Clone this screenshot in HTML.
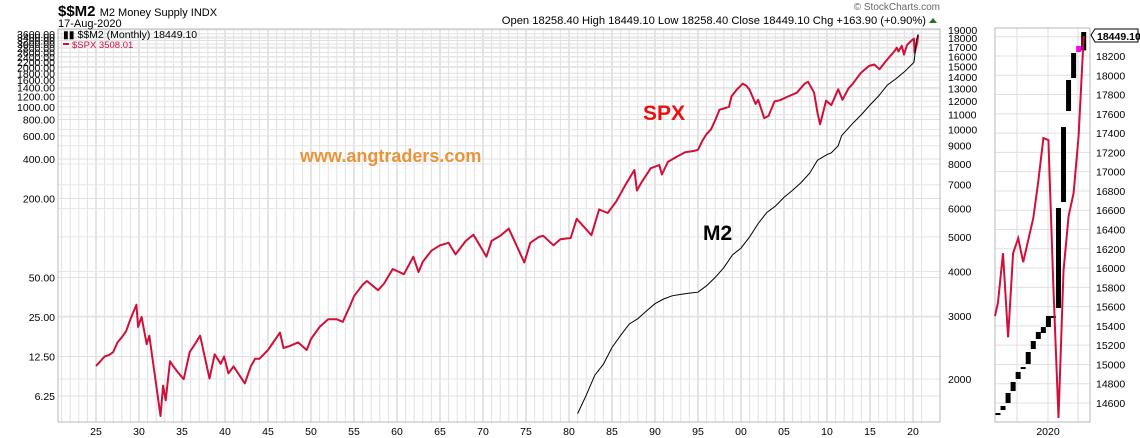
<!DOCTYPE html>
<html><head><meta charset="utf-8"><style>
body{margin:0;background:#fff;width:1140px;height:438px;overflow:hidden}
svg{font-family:"Liberation Sans",Arial,sans-serif;display:block}
</style></head><body>
<svg id="chart" width="1140" height="438" viewBox="0 0 1140 438">
<g id="grid"></g>
<g id="axes"></g>
<g id="series"></g>
<text x="58" y="16" font-size="15" font-weight="bold">$$M2 <tspan font-size="11" font-weight="normal">M2 Money Supply  INDX</tspan></text>
<text x="58" y="27" font-size="11">17-Aug-2020</text>
<text x="940" y="10" font-size="10" fill="#666" text-anchor="end">© StockCharts.com</text>
<text x="926" y="24" font-size="11.2" text-anchor="end">Open 18258.40  High 18449.10  Low 18258.40  Close 18449.10  Chg +163.90 (+0.90%)</text>
<polygon points="929,23 937,23 933,18" fill="#2a6e2a"/>
<text x="63" y="38" font-size="10.5">▮▮ $$M2 (Monthly) 18449.10</text>
<rect x="63" y="43" width="6" height="2" fill="#d0103a"/>
<text x="72" y="48" font-size="9.5" fill="#d0103a">$SPX 3508.01</text>
<text x="643" y="120" font-size="21" font-weight="bold" fill="#e81010">SPX</text>
<text x="300" y="162" font-size="18" font-weight="bold" fill="#e8943a">www.angtraders.com</text>
<text x="703" y="240" font-size="21" font-weight="bold">M2</text>
</svg>
<script>
// main chart data
const spxYears=[1925,1925.5,1926,1926.5,1927,1927.5,1928,1928.5,1929,1929.7,1929.9,1930.3,1930.9,1931.2,1931.9,1932.5,1932.8,1933.1,1933.6,1934,1934.5,1935.2,1935.9,1936.5,1937.1,1937.7,1938.2,1938.8,1939.5,1939.9,1940.4,1941,1942.3,1943,1943.5,1944,1945,1946.4,1946.8,1947.5,1948.5,1949.5,1950,1951,1952,1953,1953.7,1954.5,1955,1956,1956.5,1957.8,1958.5,1959.5,1960,1960.8,1961.9,1962.5,1963,1964,1965,1966,1966.8,1968,1968.9,1970.4,1971,1972,1973,1974.8,1975.5,1976.5,1977,1978.2,1979,1980.2,1980.9,1982.6,1983.5,1984.5,1985.5,1986.5,1987.6,1987.9,1988.5,1989.5,1990.5,1990.8,1991.5,1992.5,1993.5,1994.5,1995,1995.5,1996,1996.5,1997,1997.5,1998,1998.6,1998.9,1999.5,2000.2,2000.6,2001,2001.7,2002,2002.7,2003.2,2003.9,2004.5,2005.5,2006.5,2007.4,2007.8,2008.5,2008.9,2009.2,2009.9,2010.5,2011.3,2011.8,2012.5,2013,2013.9,2014.9,2015.5,2016.1,2016.9,2017.9,2018.1,2018.3,2018.7,2018.95,2019.3,2019.9,2020.1,2020.2,2020.5,2020.6];
const spxValues=[10.6,11.5,12.5,12.8,13.5,16,17.5,19.5,24,31,21,25,15.5,18,8.5,4.4,7.5,5.8,11.5,10.5,9.5,8.4,13.5,15.5,18,12,8.5,13,11,12.5,9.3,10.5,7.8,10.5,12,12,14,19,14.5,15,16,14,17,21,24,24,23,30,36,44,47,40,45,58,56,53,72,55,66,80,88,92,75,95,106,72,95,104,118,65,92,102,104,88,98,100,140,105,165,155,190,250,330,230,270,340,360,305,380,415,450,460,470,550,620,670,790,950,970,1000,1200,1350,1500,1450,1350,1050,1130,820,850,1100,1120,1200,1280,1500,1550,1280,900,735,1115,1030,1360,1130,1380,1500,1800,2050,2100,1930,2250,2680,2820,2640,2910,2500,2950,3230,3300,2580,3100,3508];
const m2Years=[1981,1982,1983,1984,1985,1986,1987,1988,1989,1990,1991,1992,1993,1994,1995,1996,1997,1998,1999,2000,2001,2002,2003,2004,2005,2006,2007,2008,2008.9,2010,2010.5,2011.3,2011.7,2013,2014,2015,2016,2017,2018,2019,2020.1,2020.2,2020.4,2020.6];
const m2Values=[1600,1800,2050,2200,2450,2650,2850,2950,3100,3250,3350,3420,3450,3480,3500,3650,3850,4100,4450,4650,5000,5450,5850,6100,6450,6750,7100,7550,8200,8500,8600,9000,9600,10400,11000,11700,12400,13300,13850,14500,15400,16000,17800,18449];
const leftTicks=[6.25,12.5,25,50,200,400,600,800,1000,1200,1400,1600,1800,2000,2200,2400,2600,2800,3000,3200,3400,3600];
const rightTicks=[2000,3000,4000,5000,6000,7000,8000,9000,10000,11000,12000,13000,14000,15000,16000,17000,18000,19000];
const yearTicks=[25,30,35,40,45,50,55,60,65,70,75,80,85,90,95,"00","05",10,15,20];
// zoom panel data (monthly)
const barOpen=[14475,14527,14600,14724,14849,14953,15005,15160,15264,15326,15388,15492,15586,16685,17629,17972,18241,18258];
const barClose=[14496,14569,14704,14818,14922,14973,15129,15243,15337,15388,15503,15503,16623,17463,17951,18231,18304,18449];
const panelSpx=[15500,15645,16154,15282,16154,16310,16061,16289,16518,16900,17348,17327,15800,14444,15970,16540,16778,17369,18407];
const panelTicks=[14600,14800,15000,15200,15400,15600,15800,16000,16200,16400,16600,16800,17000,17200,17400,17600,17800,18000,18200,18400];

const NS="http://www.w3.org/2000/svg";
const L=58,R=940,T=29,B=422;
const xYear=y=>96+8.6*(y-1925);
const yLeft=v=>396-39.5*Math.log2(v/6.25);
const yRight=v=>379-107.5*Math.log2(v/2000);
const PL=995,PR=1090;
const px=i=>998+5.04*i;
const py=v=>403-(v-14600)*0.09639;
function mk(tag,attrs,parent){const e=document.createElementNS(NS,tag);for(const k in attrs)e.setAttribute(k,attrs[k]);parent.appendChild(e);return e;}
const grid=document.getElementById('grid'),axes=document.getElementById('axes'),series=document.getElementById('series');

for(let yr=1921;yr<=2021;yr++){const x=xYear(yr);if(x<L||x>R)continue;const l=mk('line',{x1:x,x2:x,y1:T,y2:B,stroke:yr%5===0?'#c8c8c8':'#e2e2e2','stroke-width':1},grid);

}
leftTicks.forEach(v=>{const y=yLeft(v);const l=mk('line',{x1:L,x2:R,y1:y,y2:y,stroke:'#e0e0e0'},grid);


const t=mk('text',{x:55,y:y+4,'font-size':10.5,'text-anchor':'end'},axes);t.textContent=v.toFixed(2);

});
rightTicks.forEach(v=>{const y=yRight(v);const l=mk('line',{x1:L,x2:R,y1:y,y2:y,stroke:'#e6e6e6'},grid);


const t=mk('text',{x:948,y:y+4,'font-size':10.5},axes);t.textContent=v;

});
yearTicks.forEach(lbl=>{let n=+lbl;let yr=n<25?2000+n:1900+n;
const t=mk('text',{x:xYear(yr),y:435,'font-size':10.5,'text-anchor':'middle'},axes);t.textContent=lbl;

});
const frame=mk('rect',{x:L,y:T,width:R-L,height:B-T,fill:'none',stroke:'#b8b8b8'},axes);



const spxPath=mk('polyline',{points:spxYears.map((y,i)=>xYear(y).toFixed(1)+','+yLeft(spxValues[i]).toFixed(1)).join(' '),fill:'none',stroke:'#d0103a','stroke-width':2,'stroke-linejoin':'round'},series);


const m2Path=mk('polyline',{points:m2Years.map((y,i)=>xYear(y).toFixed(1)+','+yRight(m2Values[i]).toFixed(1)).join(' '),fill:'none',stroke:'#000','stroke-width':1},series);



[1017,1048,1078].forEach(x=>{const l=mk('line',{x1:x,x2:x,y1:28,y2:422,stroke:'#dcdcdc'},grid);

});
panelTicks.forEach(v=>{const y=py(v);const l=mk('line',{x1:PL,x2:PR,y1:y,y2:y,stroke:'#e0e0e0'},grid);


if(v<18400){const t=mk('text',{x:1096,y:y+4,'font-size':10.5},axes);t.textContent=v;

}});
const pf=mk('rect',{x:PL,y:28,width:PR-PL,height:394,fill:'none',stroke:'#b8b8b8'},axes);


const pt=mk('text',{x:1048,y:435,'font-size':10.5,'text-anchor':'middle'},axes);pt.textContent='2020';


barOpen.forEach((o,i)=>{const c=barClose[i];const y1=py(Math.max(o,c)),y2=py(Math.min(o,c));
const r=mk('rect',{x:px(i)-2.5,y:y1,width:5,height:Math.max(2,y2-y1),fill:i===16?'#ff00ff':'#000'},series);

});
const pp=mk('polyline',{points:panelSpx.map((v,i)=>Math.max(PL,px(i-1)).toFixed(1)+','+py(v).toFixed(1)).join(' '),fill:'none',stroke:'#d0103a','stroke-width':2},series);


const lb=mk('path',{d:'M1091,35 L1095,29 L1138,29 L1138,42 L1095,42 Z',fill:'#fff',stroke:'#000'},axes);


const lt=mk('text',{x:1097,y:40,'font-size':10.5,'font-weight':'bold'},axes);lt.textContent='18449.10';


</script>
</body></html>
